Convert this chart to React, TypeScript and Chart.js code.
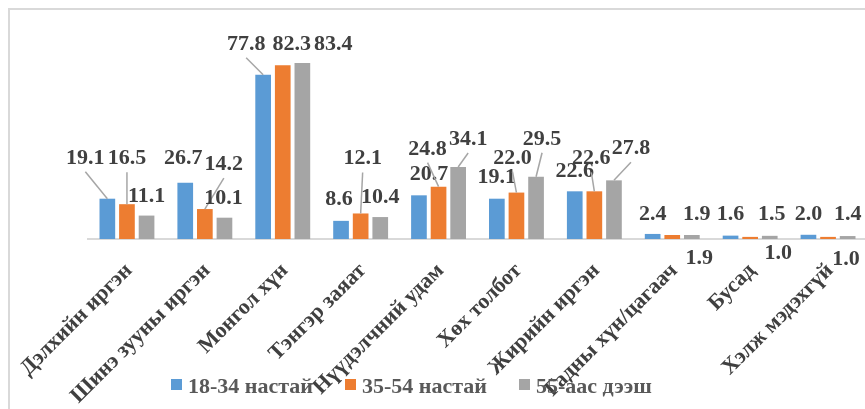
import React, { useEffect, useRef } from 'react';
import { Chart, registerables } from 'chart.js';

Chart.register(...registerables);

const CATEGORIES = [
  'Дэлхийн иргэн',
  'Шинэ зууны иргэн',
  'Монгол хүн',
  'Тэнгэр заяат',
  'Нүүдэлчний удам',
  'Хөх толбот',
  'Жирийн иргэн',
  'Гадны хүн/цагаач',
  'Бусад',
  'Хэлж мэдэхгүй',
];

const SERIES_NAMES = ['18-34 настай', '35-54 настай', '55-аас дээш'];

const AGE_18_34 = [19.1, 26.7, 77.8, 8.6, 20.7, 19.1, 22.6, 2.4, 1.6, 2.0];
const AGE_35_54 = [16.5, 14.2, 82.3, 12.1, 24.8, 22.0, 22.6, 1.9, 1.0, 1.0];
const AGE_55_PLUS = [11.1, 10.1, 83.4, 10.4, 34.1, 29.5, 27.8, 1.9, 1.5, 1.4];

const COLORS = ['#5B9BD5', '#ED7D31', '#A5A5A5'];

// Label placement: [dx, dy] in px from each bar's top-centre
const OFFSETS_18_34 = [[-22, -42], [-2, -26], [-17, -32], [-2, -23], [10, -22], [0, -23], [0, -21], [0, -21], [0, -23], [0, -22]];
const OFFSETS_35_54 = [[0, -47], [19, -46], [9, -22], [2, -56], [-11, -39], [-4, -36], [-3, -34], [27, 22], [28, 15], [18, 21]];
const OFFSETS_55_PLUS = [[0, -21], [-1, -21], [31, -20], [0, -21], [10, -29], [6, -39], [17, -33], [5, -22], [2, -23], [0, -23]];
const OFFSETS = [OFFSETS_18_34, OFFSETS_35_54, OFFSETS_55_PLUS];

const FONT_FAMILY = '"Liberation Serif", "Times New Roman", serif';

const valueLabels = {
  id: 'valueLabels',
  afterDatasetsDraw(chart: any) {
    const ctx = chart.ctx;
    ctx.save();
    ctx.font = `bold 22px ${FONT_FAMILY}`;
    ctx.textAlign = 'center';
    ctx.textBaseline = 'alphabetic';
    chart.data.datasets.forEach((ds: any, di: number) => {
      const meta = chart.getDatasetMeta(di);
      const offs = OFFSETS[di];
      meta.data.forEach((bar: any, i: number) => {
        const { x, y } = bar.getProps(['x', 'y'], true);
        const [dx, dy] = offs[i];
        const lx = x + dx;
        const ly = y + dy;
        if (dy < -27) {
          ctx.strokeStyle = '#A6A6A6';
          ctx.lineWidth = 1.5;
          ctx.beginPath();
          ctx.moveTo(lx, ly + 15);
          ctx.lineTo(x, y);
          ctx.stroke();
        }
        ctx.fillStyle = '#404040';
        ctx.fillText(Number(ds.data[i]).toFixed(1), lx, ly + 7);
      });
    });
    ctx.restore();
  },
};

const bottomLegend = {
  id: 'bottomLegend',
  afterDraw(chart: any) {
    const ctx = chart.ctx;
    ctx.save();
    ctx.font = `bold 22px ${FONT_FAMILY}`;
    ctx.textAlign = 'left';
    ctx.textBaseline = 'alphabetic';
    chart.data.datasets.forEach((ds: any, di: number) => {
      const x0 = 161 + 174 * di;
      ctx.fillStyle = ds.backgroundColor;
      ctx.fillRect(x0, 369, 11, 11);
      ctx.fillStyle = '#595959';
      ctx.fillText(ds.label, x0 + 17, 383);
    });
    ctx.restore();
  },
};

export default function App() {
  const ref = useRef<HTMLCanvasElement | null>(null);

  useEffect(() => {
    if (!ref.current) return;
    const chart = new Chart(ref.current, {
      type: 'bar',
      data: {
        labels: CATEGORIES,
        datasets: [
          { label: SERIES_NAMES[0], data: AGE_18_34, backgroundColor: COLORS[0] },
          { label: SERIES_NAMES[1], data: AGE_35_54, backgroundColor: COLORS[1] },
          { label: SERIES_NAMES[2], data: AGE_55_PLUS, backgroundColor: COLORS[2] },
        ],
      },
      options: {
        responsive: false,
        animation: false,
        categoryPercentage: 0.755,
        barPercentage: 0.8,
        layout: { padding: { left: 78, right: 13, top: 18, bottom: 0 } },
        plugins: {
          legend: { display: false },
          tooltip: { enabled: false },
        },
        scales: {
          x: {
            grid: { display: false, drawTicks: false },
            border: { color: '#D9D9D9', width: 2 },
            ticks: {
              autoSkip: false,
              maxRotation: 45,
              minRotation: 45,
              padding: 19,
              labelOffset: 2,
              color: '#404040',
              font: { family: FONT_FAMILY, size: 22, weight: 'bold' },
            },
            afterFit: (s: any) => {
              s.height = 191;
              s.paddingLeft = 0;
              s.paddingRight = 0;
            },
          },
          y: { display: false, min: 0, max: 100 },
        },
      },
      plugins: [valueLabels, bottomLegend],
    } as any);
    return () => chart.destroy();
  }, []);

  return (
    <div
      style={{
        position: 'fixed',
        left: 8,
        top: 8,
        width: 855,
        height: 399,
        overflow: 'hidden',
        borderTop: '2px solid #D9D9D9',
        borderLeft: '2px solid #D9D9D9',
        background: '#FFFFFF',
      }}
    >
      <canvas ref={ref} width={870} height={420} style={{ display: 'block' }} />
    </div>
  );
}
